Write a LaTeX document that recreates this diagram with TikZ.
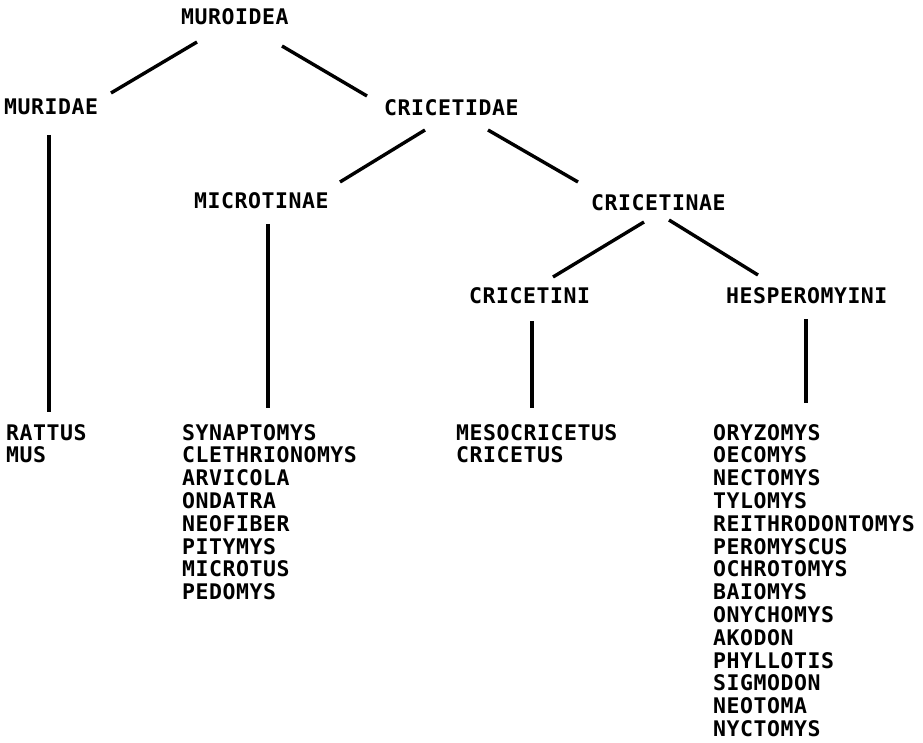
\documentclass[tikz,border=0pt]{standalone}
\usepackage{fontspec}
\newfontfamily\labfont{DejaVu Sans Mono}[LetterSpace=2.5]
\begin{document}
\begin{tikzpicture}[x=1pt,y=-1pt,
  lab/.style={inner sep=0pt,anchor=base west,font=\labfont\bfseries\fontsize{21.5}{22.8}\selectfont},
  edge/.style={line width=3.4pt,line cap=butt}]
\useasboundingbox (0,0) rectangle (923,743);
% taxa
\node[lab] (mur) at (181,25) {MUROIDEA};
\node[lab] (muridae) at (4,115) {MURIDAE};
\node[lab] (cricetidae) at (384,116) {CRICETIDAE};
\node[lab] (microtinae) at (194,209) {MICROTINAE};
\node[lab] (cricetinae) at (591,211) {CRICETINAE};
\node[lab] (cricetini) at (469,303) {CRICETINI};
\node[lab] (hesper) at (726,303) {HESPEROMYINI};
% genera
\node[lab] (rattus) at (6,440) {\begin{tabular}[t]{@{}l@{}}RATTUS\\MUS\end{tabular}};
\node[lab] (synap) at (182,440) {\begin{tabular}[t]{@{}l@{}}SYNAPTOMYS\\CLETHRIONOMYS\\ARVICOLA\\ONDATRA\\NEOFIBER\\PITYMYS\\MICROTUS\\PEDOMYS\end{tabular}};
\node[lab] (meso) at (456,440) {\begin{tabular}[t]{@{}l@{}}MESOCRICETUS\\CRICETUS\end{tabular}};
\node[lab] (oryz) at (713,440) {\begin{tabular}[t]{@{}l@{}}ORYZOMYS\\OECOMYS\\NECTOMYS\\TYLOMYS\\REITHRODONTOMYS\\PEROMYSCUS\\OCHROTOMYS\\BAIOMYS\\ONYCHOMYS\\AKODON\\PHYLLOTIS\\SIGMODON\\NEOTOMA\\NYCTOMYS\end{tabular}};
% connectors
\draw[edge] ([shift={(16,17)}]mur.base west) -- ([shift={(107,-22)}]muridae.base west);
\draw[edge] ([shift={(101,21)}]mur.base west) -- ([shift={(-17,-20)}]cricetidae.base west);
\draw[edge] ([shift={(41,14)}]cricetidae.base west) -- ([shift={(146,-27)}]microtinae.base west);
\draw[edge] ([shift={(104,14)}]cricetidae.base west) -- ([shift={(-13,-29)}]cricetinae.base west);
\draw[edge] ([shift={(53,11)}]cricetinae.base west) -- ([shift={(84,-26)}]cricetini.base west);
\draw[edge] ([shift={(78,9)}]cricetinae.base west) -- ([shift={(32,-28)}]hesper.base west);
\draw[edge] ([shift={(45,20)}]muridae.base west) -- ([shift={(43,-28)}]rattus.base west);
\draw[edge] ([shift={(74,15)}]microtinae.base west) -- ([shift={(86,-32)}]synap.base west);
\draw[edge] ([shift={(63,18)}]cricetini.base west) -- ([shift={(76,-32)}]meso.base west);
\draw[edge] ([shift={(80,16)}]hesper.base west) -- ([shift={(93,-37)}]oryz.base west);
\end{tikzpicture}
\end{document}
